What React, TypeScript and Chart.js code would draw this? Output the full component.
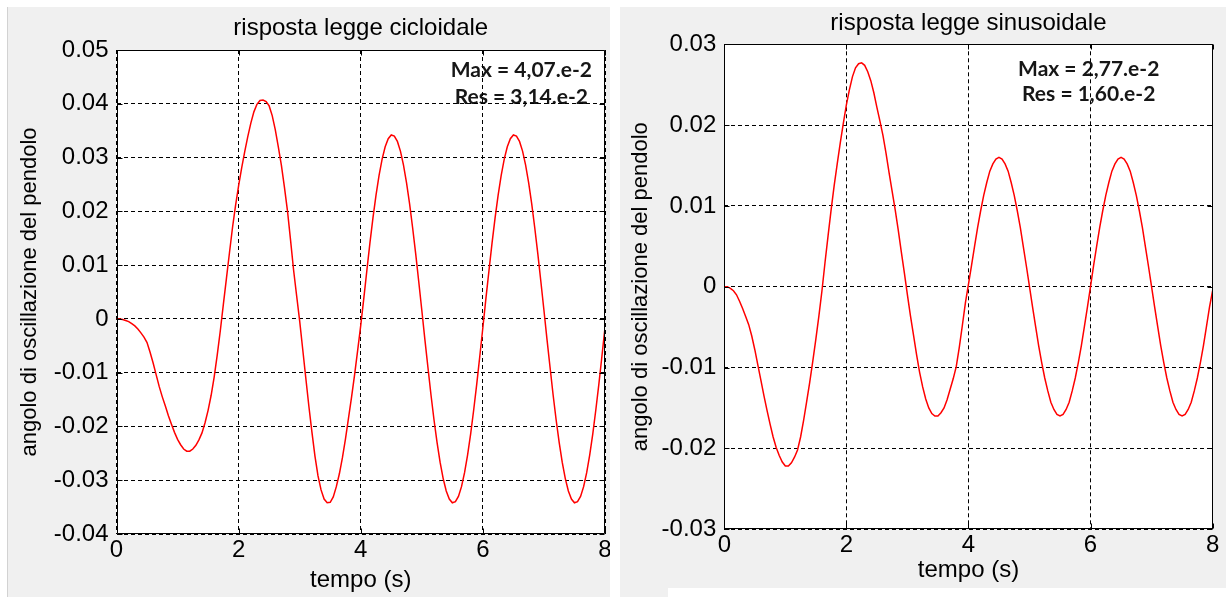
import { useEffect, useRef } from "react";
import { Chart, registerables } from "chart.js";

Chart.register(...registerables);
Chart.defaults.font.family = "'Liberation Sans', Arial, sans-serif";
Chart.defaults.color = "#000";

// time samples (s)
const tempo = [
  0, 0.05, 0.1, 0.15, 0.2, 0.25, 0.3, 0.35, 0.4, 0.45,
  0.5, 0.55, 0.6, 0.65, 0.7, 0.75, 0.8, 0.85, 0.9, 0.95,
  1, 1.05, 1.1, 1.15, 1.2, 1.25, 1.3, 1.35, 1.4, 1.45,
  1.5, 1.55, 1.6, 1.65, 1.7, 1.75, 1.8, 1.85, 1.9, 1.95,
  2, 2.05, 2.1, 2.15, 2.2, 2.25, 2.3, 2.35, 2.4, 2.45,
  2.5, 2.55, 2.6, 2.65, 2.7, 2.75, 2.8, 2.85, 2.9, 2.95,
  3, 3.05, 3.1, 3.15, 3.2, 3.25, 3.3, 3.35, 3.4, 3.45,
  3.5, 3.55, 3.6, 3.65, 3.7, 3.75, 3.8, 3.85, 3.9, 3.95,
  4, 4.05, 4.1, 4.15, 4.2, 4.25, 4.3, 4.35, 4.4, 4.45,
  4.5, 4.55, 4.6, 4.65, 4.7, 4.75, 4.8, 4.85, 4.9, 4.95,
  5, 5.05, 5.1, 5.15, 5.2, 5.25, 5.3, 5.35, 5.4, 5.45,
  5.5, 5.55, 5.6, 5.65, 5.7, 5.75, 5.8, 5.85, 5.9, 5.95,
  6, 6.05, 6.1, 6.15, 6.2, 6.25, 6.3, 6.35, 6.4, 6.45,
  6.5, 6.55, 6.6, 6.65, 6.7, 6.75, 6.8, 6.85, 6.9, 6.95,
  7, 7.05, 7.1, 7.15, 7.2, 7.25, 7.3, 7.35, 7.4, 7.45,
  7.5, 7.55, 7.6, 7.65, 7.7, 7.75, 7.8, 7.85, 7.9, 7.95,
  8,
];

// pendulum angle, cycloidal motion law
const angoloCicloidale = [
  0, 0, -0.0001, -0.0003, -0.0005, -0.0009, -0.0013, -0.0019, -0.0026, -0.0034,
  -0.0044, -0.0062, -0.0082, -0.0104, -0.0126, -0.0145, -0.0162, -0.018, -0.0196, -0.0211,
  -0.0224, -0.0234, -0.0242, -0.0246, -0.0246, -0.0242, -0.0235, -0.0225, -0.0212, -0.0193,
  -0.017, -0.0142, -0.0108, -0.0067, -0.0022, 0.0027, 0.0075, 0.0123, 0.017, 0.0211,
  0.0248, 0.0281, 0.0311, 0.0339, 0.0364, 0.0385, 0.0399, 0.0406, 0.0407, 0.0404,
  0.0396, 0.0378, 0.0352, 0.032, 0.0286, 0.0245, 0.0201, 0.0147, 0.0091, 0.0043,
  -0.0004, -0.0057, -0.011, -0.0162, -0.021, -0.0255, -0.0292, -0.0318, -0.0335, -0.0342,
  -0.0341, -0.0331, -0.0312, -0.0288, -0.0258, -0.0223, -0.0184, -0.0145, -0.0103, -0.0058,
  -0.0012, 0.0038, 0.009, 0.0141, 0.0188, 0.023, 0.0267, 0.0297, 0.032, 0.0335,
  0.0342, 0.034, 0.033, 0.0312, 0.0286, 0.0253, 0.0214, 0.0169, 0.0121, 0.0069,
  0.0016, -0.0038, -0.009, -0.0141, -0.0188, -0.023, -0.0267, -0.0297, -0.032, -0.0335,
  -0.0342, -0.034, -0.033, -0.0312, -0.0286, -0.0253, -0.0214, -0.0169, -0.0121, -0.0069,
  -0.0016, 0.0038, 0.009, 0.0141, 0.0188, 0.023, 0.0267, 0.0297, 0.032, 0.0335,
  0.0342, 0.034, 0.033, 0.0312, 0.0286, 0.0253, 0.0214, 0.0169, 0.0121, 0.0069,
  0.0016, -0.0038, -0.009, -0.0141, -0.0188, -0.023, -0.0267, -0.0297, -0.032, -0.0335,
  -0.0342, -0.034, -0.033, -0.0312, -0.0286, -0.0253, -0.0214, -0.0169, -0.0121, -0.0069,
  -0.0016,
];

// pendulum angle, sinusoidal motion law
const angoloSinusoidale = [
  0, 0, -0.0002, -0.0005, -0.001, -0.0018, -0.0027, -0.0037, -0.0047, -0.0061,
  -0.0078, -0.0097, -0.0116, -0.0135, -0.0153, -0.017, -0.0186, -0.0199, -0.0209, -0.0217,
  -0.0222, -0.0222, -0.0218, -0.0211, -0.0202, -0.0186, -0.0165, -0.0142, -0.0118, -0.0092,
  -0.0065, -0.0036, -0.0005, 0.003, 0.0063, 0.0095, 0.0125, 0.0152, 0.0178, 0.0202,
  0.0225, 0.0244, 0.026, 0.0271, 0.0276, 0.0277, 0.0274, 0.0266, 0.0255, 0.024,
  0.0222, 0.0205, 0.0187, 0.0165, 0.0141, 0.0118, 0.0095, 0.007, 0.0043, 0.0017,
  -0.001, -0.0036, -0.006, -0.0084, -0.0106, -0.0124, -0.0139, -0.015, -0.0157, -0.016,
  -0.016, -0.0156, -0.015, -0.014, -0.0127, -0.0114, -0.0099, -0.0075, -0.0048, -0.002,
  0.0003, 0.0026, 0.005, 0.0073, 0.0094, 0.0113, 0.0129, 0.0143, 0.0152, 0.0158,
  0.016, 0.0158, 0.0152, 0.0143, 0.0129, 0.0113, 0.0094, 0.0073, 0.0049, 0.0025,
  0, -0.0025, -0.0049, -0.0073, -0.0094, -0.0113, -0.0129, -0.0143, -0.0152, -0.0158,
  -0.016, -0.0158, -0.0152, -0.0143, -0.0129, -0.0113, -0.0094, -0.0073, -0.0049, -0.0025,
  0, 0.0026, 0.005, 0.0073, 0.0094, 0.0113, 0.0129, 0.0143, 0.0152, 0.0158,
  0.016, 0.0158, 0.0152, 0.0143, 0.0129, 0.0113, 0.0094, 0.0073, 0.0049, 0.0025,
  0, -0.0025, -0.0049, -0.0073, -0.0094, -0.0113, -0.0129, -0.0143, -0.0152, -0.0158,
  -0.016, -0.0158, -0.0152, -0.0143, -0.0129, -0.0113, -0.0094, -0.0073, -0.0049, -0.0025,
  -0.0005,
];

const xTicks = [0, 2, 4, 6, 8];
const xTickLabels = ["0", "2", "4", "6", "8"];

const yTicksCicloidale = [-0.04, -0.03, -0.02, -0.01, 0, 0.01, 0.02, 0.03, 0.04, 0.05];
const yTickLabelsCicloidale = ["-0.04", "-0.03", "-0.02", "-0.01", "0", "0.01", "0.02", "0.03", "0.04", "0.05"];

const yTicksSinusoidale = [-0.03, -0.02, -0.01, 0, 0.01, 0.02, 0.03];
const yTickLabelsSinusoidale = ["-0.03", "-0.02", "-0.01", "0", "0.01", "0.02", "0.03"];

const noteCicloidale = ["Max = 4,07.e-2", "Res = 3,14.e-2"];
const noteSinusoidale = ["Max = 2,77.e-2", "Res = 1,60.e-2"];

const PANEL = "#f0f0f0";

type Geometry = {
  width: number;
  height: number;
  yWidth: number;
  xHeight: number;
  padRight: number;
  titlePad: { top: number; bottom: number };
  xTitleBottom: number;
  yTitleTop: number;
  edge: boolean;
  notePos: number[][];
};

const framePlugin = {
  id: "frame",
  beforeDraw(chart: any, _args: any, opts: any) {
    const { ctx, chartArea: a, width, height } = chart;
    ctx.save();
    ctx.fillStyle = PANEL;
    ctx.fillRect(0, 0, width, height);
    if (opts.edge) {
      ctx.fillStyle = "#d2d2d2";
      ctx.fillRect(0, 0, 1, height);
    }
    ctx.fillStyle = "#ffffff";
    ctx.fillRect(a.left, a.top, a.right - a.left, a.bottom - a.top);
    // text notes sit under the grid, like axes text objects
    const xs = chart.scales.x;
    const ys = chart.scales.y;
    ctx.font = "bold 21px Lato, 'Open Sans', sans-serif";
    ctx.fillStyle = "#161616";
    ctx.textAlign = "center";
    ctx.textBaseline = "middle";
    (opts.notes as string[]).forEach((text, i) => {
      const [nx, ny] = opts.notePos[i];
      ctx.fillText(text, xs.getPixelForValue(nx), ys.getPixelForValue(ny));
    });
    ctx.restore();
  },
  afterDatasetsDraw(chart: any) {
    const { ctx, chartArea: a } = chart;
    const xs = chart.scales.x;
    const ys = chart.scales.y;
    const L = Math.round(a.left) + 0.5;
    const R = Math.round(a.right) - 0.5;
    const T = Math.round(a.top) + 0.5;
    const B = Math.round(a.bottom) - 0.5;
    ctx.save();
    ctx.strokeStyle = "#000";
    ctx.lineWidth = 1;
    ctx.setLineDash([]);
    ctx.beginPath();
    ctx.rect(L, T, R - L, B - T);
    // inward tick marks on all four sides
    const len = 5;
    xs.ticks.forEach((t: any) => {
      const px = Math.round(xs.getPixelForValue(t.value)) + 0.5;
      ctx.moveTo(px, B);
      ctx.lineTo(px, B - len);
      ctx.moveTo(px, T);
      ctx.lineTo(px, T + len);
    });
    ys.ticks.forEach((t: any) => {
      const py = Math.round(ys.getPixelForValue(t.value)) + 0.5;
      ctx.moveTo(L, py);
      ctx.lineTo(L + len, py);
      ctx.moveTo(R, py);
      ctx.lineTo(R - len, py);
    });
    ctx.stroke();
    ctx.restore();
  },
};

function PendoloChart(props: {
  title: string;
  values: number[];
  yTicks: number[];
  yTickLabels: string[];
  notes: string[];
  geo: Geometry;
  style: React.CSSProperties;
}) {
  const ref = useRef<HTMLCanvasElement>(null);
  const { title, values, yTicks, yTickLabels, notes, geo, style } = props;

  useEffect(() => {
    if (!ref.current) return;
    const chart = new Chart(ref.current, {
      type: "line",
      data: {
        datasets: [
          {
            data: tempo.map((t, i) => ({ x: t, y: values[i] })),
            borderColor: "#ff0000",
            borderWidth: 1.5,
            pointRadius: 0,
            tension: 0,
            fill: false,
          },
        ],
      },
      plugins: [framePlugin],
      options: {
        animation: false,
        responsive: false,
        maintainAspectRatio: false,
        devicePixelRatio: 1,
        layout: { padding: { left: 0, right: geo.padRight, top: 0, bottom: 0 } },
        plugins: {
          legend: { display: false },
          tooltip: { enabled: false },
          title: {
            display: true,
            fullSize: false,
            text: title,
            color: "#000",
            font: { size: 24, weight: "normal" },
            padding: geo.titlePad,
          },
          frame: { notes, notePos: geo.notePos, edge: geo.edge },
        } as any,
        scales: {
          x: {
            type: "linear",
            min: 0,
            max: 8,
            afterBuildTicks: (s: any) => {
              s.ticks = xTicks.map((value) => ({ value }));
            },
            afterFit: (s: any) => {
              s.height = geo.xHeight;
              s.paddingLeft = 0;
              s.paddingRight = 0;
            },
            ticks: {
              autoSkip: false,
              maxRotation: 0,
              padding: 2,
              color: "#000",
              font: { size: 24 },
              callback: (_v: any, i: number) => xTickLabels[i],
            },
            grid: { color: "#000", lineWidth: 1, drawTicks: false },
            border: { display: false, dash: [4, 3] },
            title: {
              display: true,
              text: "tempo (s)",
              color: "#000",
              font: { size: 24 },
              padding: { top: 0, bottom: geo.xTitleBottom },
            },
          },
          y: {
            type: "linear",
            min: yTicks[0],
            max: yTicks[yTicks.length - 1],
            afterBuildTicks: (s: any) => {
              s.ticks = yTicks.map((value) => ({ value }));
            },
            afterFit: (s: any) => {
              s.width = geo.yWidth;
              s.paddingTop = 0;
              s.paddingBottom = 0;
            },
            ticks: {
              autoSkip: false,
              padding: 8,
              color: "#000",
              font: { size: 24 },
              callback: (_v: any, i: number) => yTickLabels[i],
            },
            grid: { color: "#000", lineWidth: 1, drawTicks: false },
            border: { display: false, dash: [4, 3] },
            title: {
              display: true,
              text: "angolo di oscillazione del pendolo",
              color: "#000",
              font: { size: 22 },
              padding: { top: geo.yTitleTop, bottom: 0 },
            },
          },
        },
      } as any,
    });
    return () => chart.destroy();
  }, [title, values, yTicks, yTickLabels, notes, geo]);

  return (
    <canvas
      ref={ref}
      width={geo.width}
      height={geo.height}
      style={{ position: "absolute", display: "block", width: geo.width, height: geo.height, ...style }}
    />
  );
}

const geoCicloidale: Geometry = {
  width: 603,
  height: 590,
  yWidth: 109.5,
  xHeight: 63,
  padRight: 5,
  titlePad: { top: 6.6, bottom: 7.6 },
  xTitleBottom: 2.6,
  yTitleTop: 9.8,
  edge: true,
  notePos: [
    [6.63, 0.0462],
    [6.63, 0.0412],
  ],
};

const geoSinusoidale: Geometry = {
  width: 606,
  height: 581,
  yWidth: 104.3,
  xHeight: 58.9,
  padRight: 13.4,
  titlePad: { top: 1.6, bottom: 6.9 },
  xTitleBottom: 3.6,
  yTitleTop: 7.8,
  edge: false,
  notePos: [
    [5.97, 0.0269],
    [5.97, 0.0238],
  ],
};

export default function App() {
  return (
    <div style={{ position: "absolute", left: 0, top: 0, width: 1226, height: 597, background: "#fff", overflow: "hidden" }}>
      <PendoloChart
        title="risposta legge cicloidale"
        values={angoloCicloidale}
        yTicks={yTicksCicloidale}
        yTickLabels={yTickLabelsCicloidale}
        notes={noteCicloidale}
        geo={geoCicloidale}
        style={{ left: 7, top: 7 }}
      />
      <PendoloChart
        title="risposta legge sinusoidale"
        values={angoloSinusoidale}
        yTicks={yTicksSinusoidale}
        yTickLabels={yTickLabelsSinusoidale}
        notes={noteSinusoidale}
        geo={geoSinusoidale}
        style={{ left: 620, top: 7 }}
      />
      <div style={{ position: "absolute", left: 620, top: 588, width: 48, height: 9, background: PANEL }} />
    </div>
  );
}
